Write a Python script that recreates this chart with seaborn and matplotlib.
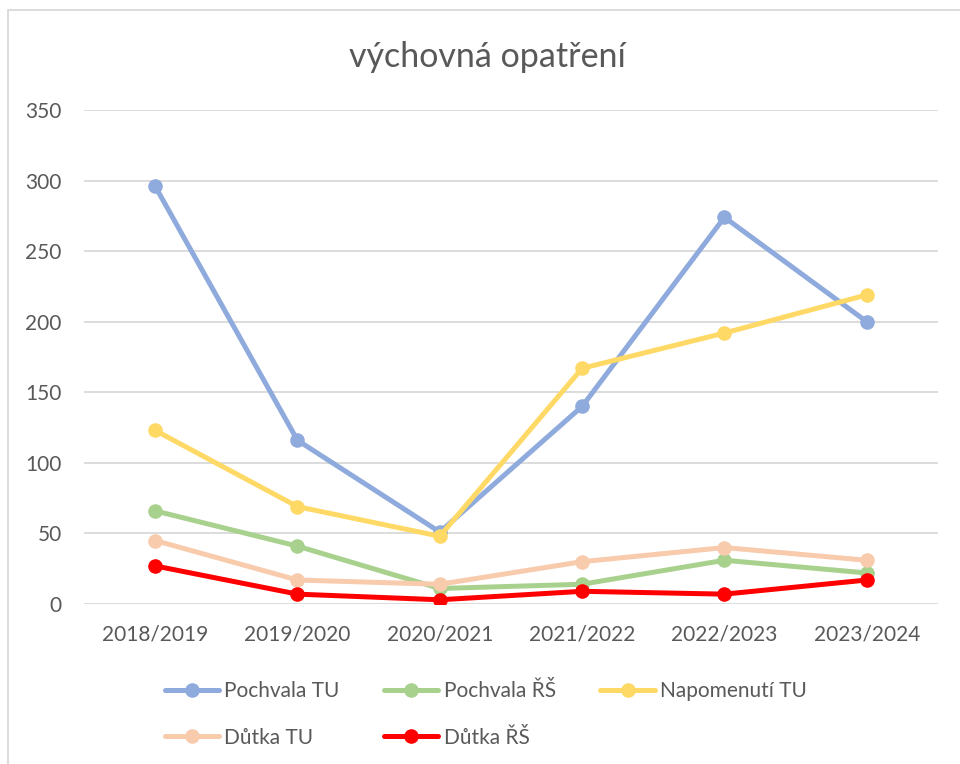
import numpy as np
import pandas as pd
import matplotlib.pyplot as plt
import matplotlib.patches as mpatches
import seaborn as sns

# school years on the x axis
years = ['2018/2019', '2019/2020', '2020/2021', '2021/2022', '2022/2023', '2023/2024']

# series values
pochvala_tu = [296, 116, 51, 140, 274, 200]
pochvala_rs = [66, 41, 11, 14, 31, 22]
napomenuti_tu = [123, 69, 48, 167, 192, 219]
dutka_tu = [45, 17, 14, 30, 40, 31]
dutka_rs = [27, 7, 3, 9, 7, 17]

series_names = ['Pochvala TU', 'Pochvala ŘŠ', 'Napomenutí TU', 'Důtka TU', 'Důtka ŘŠ']
series_values = [pochvala_tu, pochvala_rs, napomenuti_tu, dutka_tu, dutka_rs]
colors = ['#8faadc', '#a9d18e', '#ffd966', '#f8cbad', '#ff0000']

rows = []
for name, vals in zip(series_names, series_values):
    for i, (yr, v) in enumerate(zip(years, vals)):
        rows.append({'Rok': yr, 'pos': i, 'Série': name, 'Počet': v})
df = pd.DataFrame(rows)

sns.set_theme(style='white')
plt.rcParams['font.family'] = ['Lato', 'DejaVu Sans']
TEXT = '#595959'

fig = plt.figure(figsize=(9.6, 7.64), dpi=100)
ax = fig.add_axes([0.0875, 0.2094, 0.8895, 0.6466])

sns.lineplot(data=df, x='pos', y='Počet', hue='Série', hue_order=series_names,
             palette=dict(zip(series_names, colors)), marker='o', markersize=10.5,
             markeredgewidth=0, linewidth=3.6, ax=ax, legend=False)

ax.set_xlim(-0.5, len(years) - 0.5)
ax.set_ylim(0, 350)
ax.set_yticks(np.arange(0, 351, 50))
ax.set_xticks(range(len(years)))
ax.set_xticklabels(years)
ax.set_xlabel('')
ax.set_ylabel('')
ax.grid(axis='y', color='#d9d9d9', linewidth=1.3)
ax.set_axisbelow(True)
for s in ax.spines.values():
    s.set_visible(False)
ax.tick_params(axis='both', labelsize=15, colors=TEXT, length=0)
ax.tick_params(axis='y', pad=16)
ax.tick_params(axis='x', pad=15)

fig.text(0.508, 0.925, 'výchovná opatření', ha='center', va='center',
         fontsize=24.5, color=TEXT)

# legend filled column by column -> reorder so rows read like the original
order = [0, 3, 1, 4, 2]
handles = [plt.Line2D([], [], color=colors[i], linewidth=3.6, marker='o',
                      markersize=10.5, markeredgewidth=0) for i in order]
labels = [series_names[i] for i in order]
fig.legend(handles, labels, loc='upper left', bbox_to_anchor=(0.1715, 0.108),
           ncol=3, frameon=False, fontsize=15, labelcolor=TEXT,
           handlelength=2.6, handletextpad=0.25, columnspacing=2.15,
           labelspacing=1.25, borderpad=0, borderaxespad=0)

# chart area border
fig.patches.append(mpatches.Rectangle((8 / 960, -0.1), 1.2, (764 - 10) / 764 + 0.1,
                                      transform=fig.transFigure, fill=False,
                                      edgecolor='#d9d9d9', linewidth=1.3))

fig.savefig('out.png', dpi=100)
